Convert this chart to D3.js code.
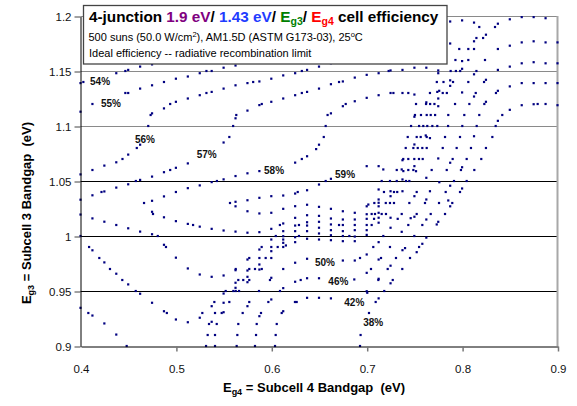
<!DOCTYPE html>
<html>
<head>
<meta charset="utf-8">
<script src="https://cdn.jsdelivr.net/npm/d3@7/dist/d3.min.js"></script>
<style>
  body { margin: 0; background: #fff; }
  svg { display: block; font-family: Arial, "Liberation Sans", sans-serif; }
  text { white-space: pre; }
</style>
</head>
<body>
<svg id="chart" width="577" height="406"></svg>
<script>
// Iso-efficiency points [Eg4 (eV), Eg3 (eV)], grouped by contour level
const eff54 = [
  [0.4,1.139],[0.403,1.14],[0.4375,1.148],[0.447,1.15],[0.45,1.151],[0.4625,1.154],[0.475,1.156],
  [0.7875,1.195],[0.8,1.196],[0.8125,1.194],[0.818,1.19],[0.8345,1.19],[0.8375,1.193],[0.85,1.197],[0.8625,1.199],[0.875,1.199],[0.8875,1.198],
  [0.5316,0.9],[0.5333,0.91],[0.5347,0.92],[0.5375,0.922],[0.541,0.93],[0.5375,0.9362],[0.55,0.9307],[0.548,0.93],[0.541,0.9],[0.541,0.91],[0.5428,0.92]
];
const eff55 = [
  [0.4,1.113],[0.4125,1.12],[0.447,1.13],[0.45,1.13],[0.4625,1.134],[0.475,1.137],[0.4875,1.14],[0.5,1.143],[0.5125,1.145],[0.525,1.148],[0.532,1.15],[0.5375,1.15],[0.55,1.153],[0.5625,1.155],
  [0.825,1.183],[0.822,1.18],[0.815,1.18],[0.8125,1.177],[0.7875,1.175],[0.797,1.17],[0.8065,1.17],[0.8125,1.17],[0.8375,1.17],[0.85,1.173],[0.8625,1.176],[0.875,1.177],[0.8875,1.176],[0.9,1.176],
  [0.4,0.9347],[0.4082,0.93],[0.4125,0.9277],[0.425,0.9205],[0.4375,0.9104],[0.4484,0.9],
  [0.5637,0.9],[0.5644,0.91],[0.5654,0.92],[0.57,0.93],[0.575,0.9362],[0.5769,0.94],[0.5829,0.9],[0.584,0.91],[0.5847,0.92],[0.5875,0.9271],[0.5892,0.93]
];
const eff56 = [
  [0.4,1.056],[0.4125,1.06],[0.425,1.064],[0.4375,1.067],[0.444,1.07],[0.45,1.074],[0.459,1.08],[0.4625,1.083],[0.471,1.1],[0.4735,1.11],[0.475,1.1115],[0.4875,1.116],[0.494,1.12],[0.5,1.122],[0.5125,1.125],[0.525,1.128],[0.532,1.13],[0.5375,1.131],[0.55,1.134],[0.5625,1.137],[0.575,1.139],[0.581,1.14],[0.5875,1.1405],[0.6,1.143],[0.6125,1.146],[0.625,1.148],[0.632,1.15],[0.6375,1.151],[0.65,1.154],[0.6625,1.157],
  [0.4,1.0],[0.409,0.99],[0.4125,0.987],[0.4197,0.98],[0.425,0.976],[0.4309,0.97],[0.4375,0.9657],[0.4438,0.96],[0.45,0.956],[0.4579,0.95],[0.4625,0.9475],[0.475,0.9393],[0.4875,0.9316],[0.4905,0.93],[0.5,0.9241],[0.5125,0.9216],[0.525,0.9257],[0.5277,0.93],[0.5403,0.94],[0.55,0.9393],[0.556,0.94],[0.55,0.9477],[0.5522,0.95],[0.5602,0.95],[0.5625,0.9529],[0.5627,0.95],[0.5662,0.95],
  [0.793,1.16],[0.8,1.159],[0.8065,1.16],[0.824,1.16],[0.85,1.154],[0.8625,1.157],[0.875,1.158],[0.8875,1.157],[0.9,1.157]
];
const eff57 = [
  [0.4,1.033],[0.4125,1.037],[0.422,1.04],[0.425,1.0405],[0.4375,1.044],[0.45,1.047],[0.458,1.05],[0.4625,1.051],[0.475,1.054],[0.4875,1.058],[0.494,1.06],[0.5,1.062],[0.5125,1.066],[0.55,1.085],[0.556,1.09],[0.56,1.1],[0.5625,1.107],[0.5633,1.11],[0.575,1.114],[0.5875,1.119],[0.59,1.12],[0.6,1.122],[0.6125,1.125],[0.625,1.128],[0.632,1.13],[0.6375,1.131],[0.65,1.134],[0.6625,1.138],[0.671,1.14],[0.675,1.1405],[0.6875,1.144],[0.7,1.1465],[0.7125,1.148],[0.723,1.15],[0.725,1.1505],[0.7375,1.151],[0.75,1.153],[0.7625,1.153],[0.775,1.1505],[0.775,1.148],
  [0.788,1.15],[0.7935,1.15],[0.798,1.15],[0.8,1.152],[0.815,1.15],[0.8125,1.147],[0.8375,1.151],
  [0.7735,1.14],[0.7805,1.14],[0.7875,1.1415],[0.7905,1.14],[0.7875,1.1365],[0.8065,1.14],[0.825,1.142],[0.823,1.14],
  [0.85,1.136],[0.8625,1.139],[0.875,1.139],[0.8875,1.139],[0.9,1.139],[0.8375,1.132],[0.8355,1.13],
  [0.4,1.0195],[0.4125,1.016],[0.425,1.013],[0.4375,1.01],[0.45,1.007],[0.4625,1.004],[0.475,1.0016],[0.481,1.0],[0.4875,0.992],[0.4896,0.99],[0.5,0.9803],[0.5125,0.9705],[0.525,0.965],[0.5375,0.9629],[0.55,0.9641],[0.5627,0.97],[0.5625,0.9689],
  [0.5769,0.98],[0.575,0.9786],[0.5875,0.98],[0.5941,0.98],[0.6,0.98],[0.5875,0.9741],[0.59,0.97],[0.5875,0.9695],[0.5829,0.97],[0.5769,0.97],[0.575,0.9686],[0.6125,0.97]
];
const eff58 = [
  [0.4666,1.03],[0.475,1.032],[0.475,1.022],[0.476,1.02],[0.4875,1.036],[0.4875,1.017],[0.5,1.04],[0.5,1.0135],[0.5125,1.0435],[0.5125,1.011],[0.518,1.01],[0.525,1.046],[0.525,1.0085],[0.5375,1.049],[0.5375,1.0065],[0.543,1.05],[0.55,1.0515],[0.55,1.005],[0.5625,1.0545],[0.5625,1.004],[0.575,1.057],[0.575,1.003],[0.5875,1.059],[0.5875,1.0035],[0.6,1.0065],[0.609,1.01],[0.6125,1.0114],[0.625,1.0165],[0.6375,1.0189],[0.65,1.0183],
  [0.625,1.0667],[0.632,1.07],[0.6375,1.0725],[0.647,1.079],[0.65,1.083],[0.655,1.09],[0.657,1.1],[0.659,1.11],[0.6625,1.1115],[0.675,1.118],[0.678,1.12],[0.6875,1.1225],[0.7,1.1256],[0.7125,1.128],[0.725,1.13],[0.728,1.13],[0.7375,1.13],[0.7436,1.13],[0.75,1.1286],[0.7663,1.13],[0.774,1.131],[0.776,1.132],[0.7797,1.13],[0.784,1.13],[0.775,1.125],[0.8,1.1305],[0.8143,1.13],[0.8125,1.1268]
];
const eff59 = [
  [0.5567,1.03],[0.5625,1.0311],[0.5625,1.027],[0.575,1.0325],[0.5875,1.0347],[0.6,1.0362],[0.6125,1.0368],[0.625,1.0386],[0.6277,1.04],[0.6375,1.0416],[0.65,1.0468],[0.657,1.05],[0.6625,1.052],[0.7,1.0635],[0.7125,1.0635],[0.7174,1.0605],
  [0.575,1.0225],[0.5875,1.0205],[0.6,1.0211],[0.6125,1.0247],[0.625,1.0271],[0.6375,1.0284],[0.65,1.0265],[0.6625,1.0247],[0.675,1.0225],[0.6875,1.0211],[0.7,1.0198],[0.7052,1.02],[0.7087,1.02],[0.7125,1.0211],[0.7157,1.02],[0.7202,1.02],
  [0.6125,1.0044],[0.625,1.0095],[0.625,1.0044],[0.629,1.01],[0.6375,1.0125],[0.6375,1.0095],[0.6375,1.0044],[0.65,1.0129],[0.65,1.0075],[0.65,1.0023],[0.6047,1.0],[0.6,0.9968],[0.6125,0.9998],[0.6125,0.9968],[0.625,0.9989],[0.625,0.9944],[0.629,1.0],[0.6375,0.9975],[0.65,0.9968],[0.5899,0.99],[0.5875,0.9877],[0.6,0.99],[0.6,0.9862],[0.6067,0.99],[0.6125,0.99],[0.6153,0.9914],[0.6125,0.9938],
  [0.6625,1.0159],[0.675,1.015],[0.6875,1.015],[0.7,1.0156],[0.7077,1.0156],[0.7125,1.0166],[0.725,1.0166],[0.7325,1.0156],[0.7461,1.0162],[0.7625,1.015],[0.775,1.0129],[0.6625,1.0105],[0.671,1.01],[0.675,1.01],[0.6875,1.01],[0.7,1.01],[0.7052,1.01],[0.7125,1.0121],[0.725,1.0075],[0.7436,1.01],[0.7583,1.01],[0.7734,1.0105]
];
const eff50 = [
  [0.7517,1.12],[0.7622,1.12],[0.7625,1.1215],[0.7665,1.12],[0.771,1.12],[0.775,1.118],[0.7926,1.12],[0.8076,1.12],[0.8233,1.12],[0.825,1.122],
  [0.7506,1.11],[0.75,1.1084],[0.7569,1.11],[0.7629,1.11],[0.7671,1.11],[0.7717,1.11],[0.7855,1.11],[0.8023,1.11],[0.818,1.11],[0.8421,1.11],[0.8375,1.1047],
  [0.85,1.1147],[0.8625,1.1189],[0.875,1.1198],[0.8792,1.12],[0.8875,1.12],[0.9,1.1189],
  [0.7465,1.1],[0.7549,1.1],[0.7593,1.1],[0.7635,1.1],[0.7688,1.1],[0.774,1.1],[0.7853,1.1],[0.8002,1.1],[0.8153,1.1],[0.8352,1.1],
  [0.6625,1.0053],[0.675,1.0044],[0.6875,1.0053],[0.7,1.0053],[0.6625,1.0007],[0.675,1.0],[0.6818,1.0],[0.6875,0.9995],[0.7,1.001],[0.6625,0.9962],[0.675,0.9953],[0.6875,0.9953],[0.675,0.9777],[0.6875,0.9777],[0.693,0.98],[0.7,0.9832],
  [0.6,0.962],[0.5986,0.96],[0.625,0.9757],[0.6375,0.9793],[0.625,0.9584],[0.6308,0.96],[0.6375,0.9616],[0.65,0.9616],[0.687,0.9605]
];
const eff46 = [
  [0.743,1.09],[0.7524,1.09],[0.7566,1.09],[0.7619,1.0914],[0.7629,1.09],[0.7663,1.089],[0.7821,1.09],[0.7978,1.09],[0.8125,1.0907],[0.8317,1.09],
  [0.7409,1.08],[0.7489,1.08],[0.7535,1.08],[0.7583,1.08],[0.7629,1.08],[0.75,1.0832],[0.7797,1.08],[0.7943,1.08],[0.8093,1.08],[0.825,1.08],
  [0.7383,1.07],[0.7375,1.0689],[0.7436,1.07],[0.7499,1.07],[0.7548,1.07],[0.7587,1.07],[0.775,1.0705],[0.7901,1.07],[0.7875,1.0666],[0.8048,1.07],[0.8201,1.07],
  [0.7125,0.9944],[0.7069,0.99],[0.7244,0.99],[0.715,0.98],[0.7125,0.9786],[0.7045,0.97],[0.7,0.9665],[0.7122,0.96],[0.7125,0.9611],[0.7,0.9498],[0.7006,0.9484],[0.6625,0.9433],
  [0.5871,0.95],[0.6091,0.95],[0.6125,0.9526],[0.6,0.9423],[0.5969,0.94],[0.6248,0.94],[0.6266,0.94],[0.6375,0.9438],[0.65,0.9438],[0.6125,0.9316],[0.6109,0.93],
  [0.6039,0.9],[0.6046,0.91],[0.6057,0.92],
  [0.575,0.958],[0.575,0.9629],[0.5769,0.96],[0.5706,0.96],[0.5654,0.96],[0.5625,0.9575]
];
const eff42 = [
  [0.7315,1.06],[0.7367,1.0605],[0.7384,1.059],[0.7436,1.06],[0.7489,1.06],[0.75,1.0635],[0.7517,1.0589],[0.7681,1.06],[0.7839,1.06],[0.7988,1.06],[0.8,1.0625],[0.8128,1.06],
  [0.7157,1.05],[0.7244,1.05],[0.7315,1.05],[0.7375,1.0514],[0.7412,1.05],[0.7447,1.05],[0.7625,1.0529],[0.7761,1.0489],[0.7915,1.05],[0.8048,1.05],
  [0.7125,1.0423],[0.7181,1.04],[0.725,1.0407],[0.725,1.0362],[0.7286,1.04],[0.732,1.04],[0.7375,1.0407],[0.75,1.0362],[0.7524,1.04],[0.7663,1.0407],[0.7828,1.04],[0.7625,1.0332],[0.7125,1.0332],[0.7875,1.0457],[0.7978,1.04],[0.8,1.0432],
  [0.7307,0.98],[0.722,0.97],[0.725,0.973],[0.7273,0.96],[0.725,0.957],[0.7184,0.95],[0.7125,0.9433],[0.7094,0.94],[0.7174,1.0]
];
const eff38 = [
  [0.7,1.027],[0.7017,1.0286],[0.708,1.03],[0.7125,1.0302],[0.7125,1.027],[0.72,1.03],[0.7244,1.03],[0.7286,1.03],[0.7447,1.03],[0.7611,1.03],[0.7758,1.03],[0.7855,1.0323],[0.7897,1.03],[0.7875,1.027],
  [0.7367,1.02],[0.7524,1.02],[0.75,1.0175],[0.7671,1.02],[0.7821,1.02],
  [0.7367,1.0038],[0.7499,1.0],[0.7625,0.9985],[0.7375,0.9871],[0.7402,0.989],[0.7549,0.99],[0.7583,0.9929],[0.7524,0.9853],[0.7454,0.98],[0.7373,0.97],[0.7024,0.93],[0.6936,0.91],[0.693,0.9]
];

// Contour labels and their anchor points (Eg4, Eg3)
const labelText = ["54%", "55%", "56%", "57%", "58%", "59%", "50%", "46%", "42%", "38%"];
const labelEg4  = [0.41, 0.4215, 0.4571, 0.5218, 0.5924, 0.6668, 0.6458, 0.6598, 0.6765, 0.6964];
const labelEg3  = [1.141, 1.1203, 1.0875, 1.0741, 1.0597, 1.0556, 0.9757, 0.9588, 0.9393, 0.9214];

// Axes
const xTicks = [0.4, 0.5, 0.6, 0.7, 0.8, 0.9];
const xTickLabels = ["0.4", "0.5", "0.6", "0.7", "0.8", "0.9"];
const yTicks = [0.9, 0.95, 1, 1.05, 1.1, 1.15, 1.2];
const yTickLabels = ["0.9", "0.95", "1", "1.05", "1.1", "1.15", "1.2"];
const gridValues = [0.95, 1, 1.05, 1.1, 1.15];

const svg = d3.select("#chart");
const x = d3.scaleLinear().domain([0.4, 0.9]).range([80.5, 557.5]);
const y = d3.scaleLinear().domain([0.9, 1.2]).range([346, 16]);

// horizontal grid
svg.append("g")
  .selectAll("line")
  .data(gridValues)
  .join("line")
  .attr("x1", x(0.4)).attr("x2", x(0.9))
  .attr("y1", d => Math.round(y(d)) + 0.5)
  .attr("y2", d => Math.round(y(d)) + 0.5)
  .attr("stroke", d => d > 1.075 ? "#8a8a8a" : "#000")
  .attr("stroke-width", 1);

// plot frame (top and right)
svg.append("line")
  .attr("x1", x(0.4)).attr("x2", x(0.9))
  .attr("y1", y(1.2) + 0.5).attr("y2", y(1.2) + 0.5)
  .attr("stroke", "#8a8a8a");
svg.append("line")
  .attr("x1", x(0.9)).attr("x2", x(0.9))
  .attr("y1", y(1.2)).attr("y2", y(0.9))
  .attr("stroke", "#a8a8a8").attr("stroke-width", 2);

// contour points
const series = [eff54, eff55, eff56, eff57, eff58, eff59, eff50, eff46, eff42, eff38];
const dots = svg.append("g").attr("fill", "#000080");
series.forEach(s => {
  dots.append("g")
    .selectAll("rect")
    .data(s)
    .join("rect")
    .attr("x", d => x(d[0]) - 1.1)
    .attr("y", d => y(d[1]) - 1.1)
    .attr("width", 2.2)
    .attr("height", 2.2);
});

// axes
const yAxis = svg.append("g")
  .attr("transform", "translate(80.5,0.5)")
  .call(d3.axisLeft(y).tickValues(yTicks).tickFormat((d, i) => yTickLabels[i])
    .tickSize(6).tickSizeOuter(0).tickPadding(3));
const xAxis = svg.append("g")
  .attr("transform", "translate(0.5,346.5)")
  .call(d3.axisBottom(x).tickValues(xTicks).tickFormat((d, i) => xTickLabels[i])
    .tickSize(5).tickSizeOuter(0).tickPadding(13));
[yAxis, xAxis].forEach(g => {
  g.select(".domain").attr("stroke", "#000");
  g.selectAll(".tick text").attr("font-size", 11.5).attr("fill", "#111")
    .attr("font-family", "Arial, 'Liberation Sans', sans-serif");
});
yAxis.selectAll(".tick line").attr("stroke", "#444");
xAxis.selectAll(".tick line").attr("stroke", "#777").attr("stroke-width", 1.5);
xAxis.selectAll(".tick").filter(d => d === 0.4).select("line").remove();

// contour labels
svg.append("g")
  .selectAll("text")
  .data(labelText)
  .join("text")
  .attr("x", (d, i) => x(labelEg4[i]))
  .attr("y", (d, i) => y(labelEg3[i]))
  .attr("dy", "0.36em")
  .attr("font-size", 10)
  .attr("font-weight", "bold")
  .attr("fill", "#111")
  .text(d => d);

// axis titles
const xTitle = svg.append("text")
  .attr("x", 314).attr("y", 391.5)
  .attr("text-anchor", "middle")
  .attr("font-size", 13).attr("font-weight", "bold");
xTitle.append("tspan").text("E");
xTitle.append("tspan").attr("font-size", 9).attr("dy", 3).text("g4");
xTitle.append("tspan").attr("dy", -3).text(" = Subcell 4 Bandgap  (eV)");

const yTitle = svg.append("text")
  .attr("transform", "translate(31,213) rotate(-90)")
  .attr("text-anchor", "middle")
  .attr("font-size", 13).attr("font-weight", "bold");
yTitle.append("tspan").text("E");
yTitle.append("tspan").attr("font-size", 9).attr("dy", 3).text("g3");
yTitle.append("tspan").attr("dy", -3).text(" = Subcell 3 Bandgap  (eV)");

// title box
const box = svg.append("g");
box.append("rect")
  .attr("x", 83.5).attr("y", 5.5).attr("width", 363.5).attr("height", 58.5)
  .attr("fill", "#fff").attr("stroke", "#444").attr("stroke-width", 1.3);

const t1 = box.append("text").attr("x", 89).attr("y", 21.5)
  .attr("font-size", 15.3).attr("font-weight", "bold");
t1.append("tspan").attr("fill", "#000").text("4-junction ");
t1.append("tspan").attr("fill", "#800080").text("1.9 eV");
t1.append("tspan").attr("fill", "#000").text("/ ");
t1.append("tspan").attr("fill", "#1f3cff").text("1.43 eV");
t1.append("tspan").attr("fill", "#000").text("/ ");
t1.append("tspan").attr("fill", "#008000").text("E");
t1.append("tspan").attr("fill", "#008000").attr("font-size", 10.5).attr("dy", 3).text("g3");
t1.append("tspan").attr("fill", "#000").attr("dy", -3).text("/ ");
t1.append("tspan").attr("fill", "#ff0000").text("E");
t1.append("tspan").attr("fill", "#ff0000").attr("font-size", 10.5).attr("dy", 3).text("g4");
t1.append("tspan").attr("fill", "#000").attr("dy", -3).text(" cell efficiency");

const t2 = box.append("text").attr("x", 88.5).attr("y", 40.5).attr("font-size", 11).attr("fill", "#000");
t2.append("tspan").text("500 suns (50.0 W/cm");
t2.append("tspan").attr("font-size", 7.5).attr("dy", -4).text("2");
t2.append("tspan").attr("dy", 4).text("), AM1.5D (ASTM G173-03), 25");
t2.append("tspan").attr("font-size", 7.5).attr("dy", -4).text("o");
t2.append("tspan").attr("dy", 4).text("C");

box.append("text").attr("x", 89).attr("y", 56.5).attr("font-size", 11).attr("fill", "#000")
  .text("Ideal efficiency -- radiative recombination limit");
</script>
</body>
</html>
